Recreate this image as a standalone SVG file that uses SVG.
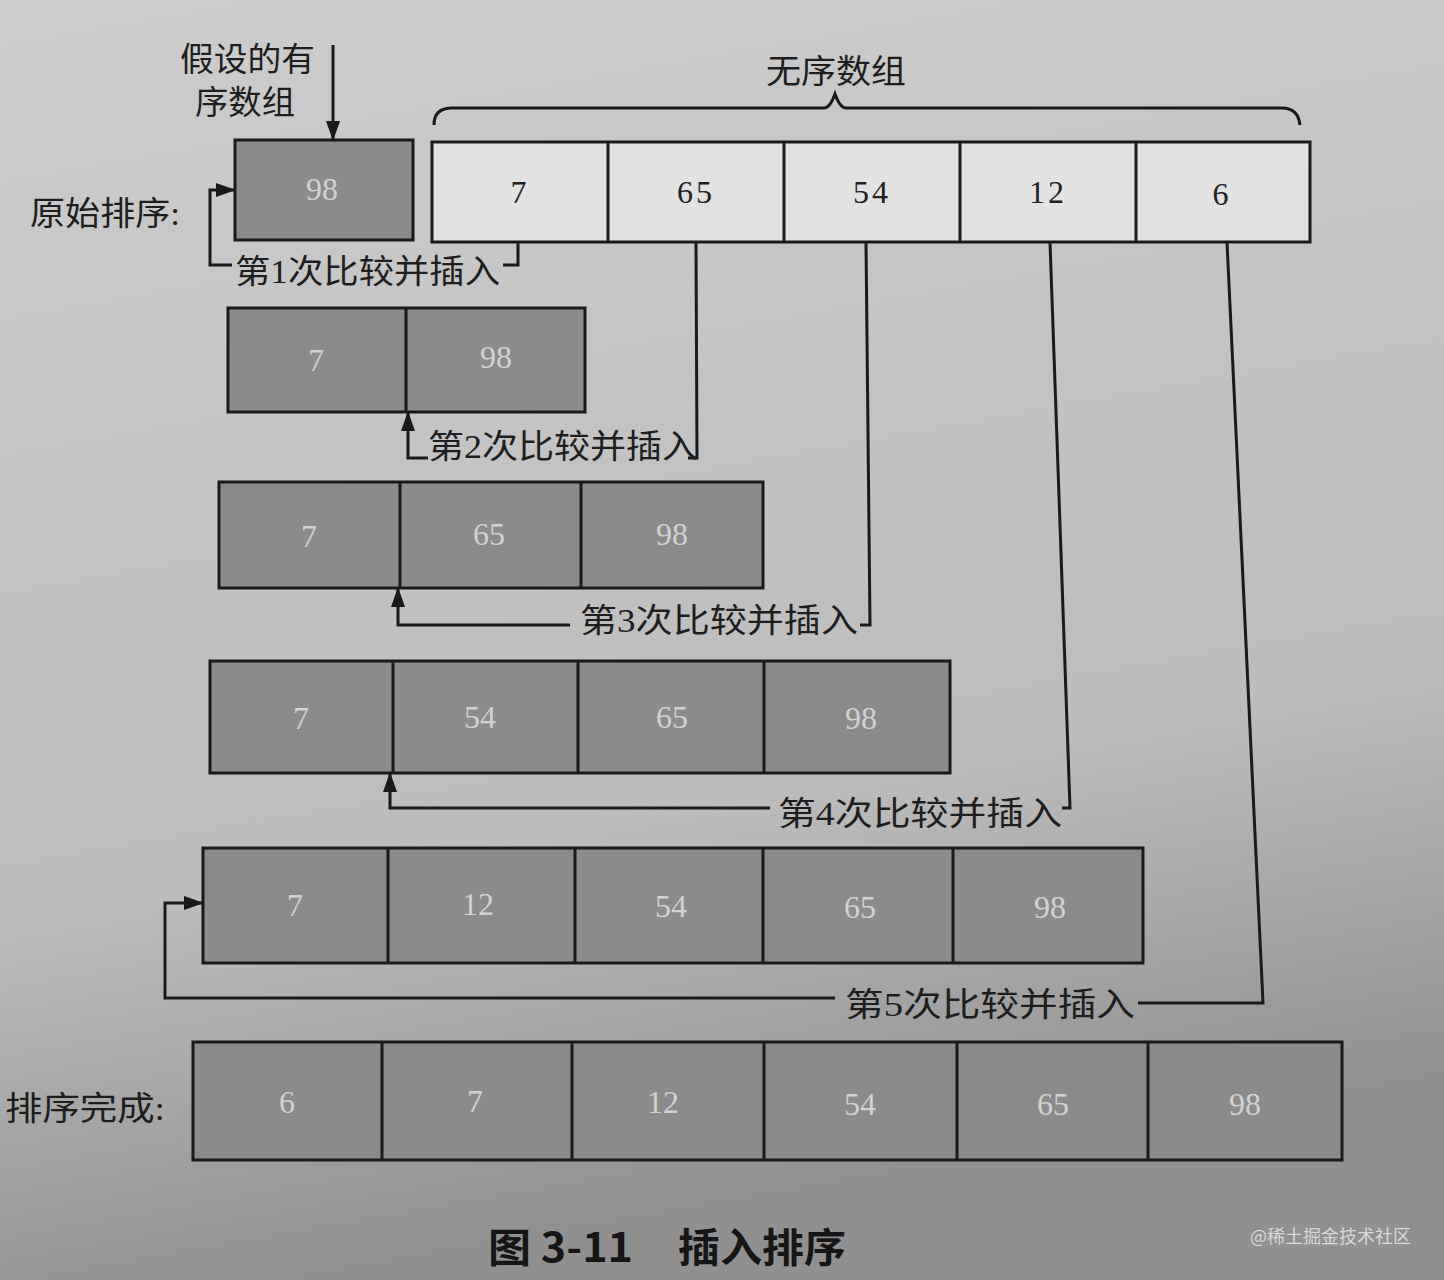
<svg xmlns="http://www.w3.org/2000/svg" width="1444" height="1280" viewBox="0 0 1444 1280">
<defs>
<linearGradient id="bg" x1="0" y1="0" x2="0.2" y2="1">
<stop offset="0" stop-color="#cdcdcd"/>
<stop offset="0.7" stop-color="#bcbcbc"/>
<stop offset="1" stop-color="#909090"/>
</linearGradient>
<marker id="ah" viewBox="0 0 20 14" refX="19" refY="7" markerWidth="20" markerHeight="14" markerUnits="userSpaceOnUse" orient="auto">
<path d="M0,0 L20,7 L0,14 Z" fill="#1a1a1a"/>
</marker>
<style>
.g{fill:#8b8b8b;stroke:#1a1a1a;stroke-width:3}
.w{fill:#e2e2e2;stroke:#1a1a1a;stroke-width:3}
.d{stroke:#1a1a1a;stroke-width:3;fill:none}
.ng{font-family:"Liberation Serif",serif;font-size:32px;fill:#d2d2d2;text-anchor:middle}
.nw{font-family:"Liberation Serif",serif;font-size:32px;fill:#222;text-anchor:middle;letter-spacing:3px}
.lb{font-family:"Liberation Serif","Noto Sans CJK SC",serif;font-size:33px;fill:#1e1e1e}
.ln{stroke:#1a1a1a;stroke-width:3;fill:none}
.cap{font-family:"Noto Sans CJK SC",sans-serif;font-size:40px;font-weight:bold;fill:#161616}
</style>
</defs>
<rect width="1444" height="1280" fill="url(#bg)"/>

<g id="label-sorted">
<text class="lb" x="180" y="71" textLength="135" lengthAdjust="spacingAndGlyphs">假设的有</text>
<text class="lb" x="195" y="114" textLength="100" lengthAdjust="spacingAndGlyphs">序数组</text>
</g>
<g id="label-unsorted">
<text class="lb" x="766" y="83" textLength="140" lengthAdjust="spacingAndGlyphs">无序数组</text>
<path class="ln" d="M434,125 Q434,108 452,108 H824 Q830,108 835,94 Q840,108 846,108 H1282 Q1298,108 1300,125"/>
</g>
<g id="label-original">
<text class="lb" x="30" y="225" textLength="150" lengthAdjust="spacingAndGlyphs">原始排序:</text>
</g>
<g id="label-done">
<text class="lb" x="5" y="1120" textLength="160" lengthAdjust="spacingAndGlyphs">排序完成:</text>
</g>

<g id="row0">
<rect class="g" x="235" y="140" width="178" height="100"/>
<text class="ng" x="322" y="200">98</text>
<rect class="w" x="432" y="142" width="878" height="100"/>
<path class="d" d="M608,142V242M784,142V242M960,142V242M1136,142V242"/>
<text class="nw" x="520" y="203">7</text>
<text class="nw" x="696" y="203">65</text>
<text class="nw" x="872" y="203">54</text>
<text class="nw" x="1048" y="203">12</text>
<text class="nw" x="1222" y="205">6</text>
</g>

<g id="row1">
<rect class="g" x="228" y="308" width="357" height="104"/>
<path class="d" d="M406,308V412"/>
<text class="ng" x="316" y="371">7</text>
<text class="ng" x="496" y="368">98</text>
</g>

<g id="row2">
<rect class="g" x="219" y="482" width="544" height="106"/>
<path class="d" d="M400,482V588M581,482V588"/>
<text class="ng" x="309" y="547">7</text>
<text class="ng" x="489" y="545">65</text>
<text class="ng" x="672" y="545">98</text>
</g>

<g id="row3">
<rect class="g" x="210" y="661" width="740" height="112"/>
<path class="d" d="M393,661V773M578,661V773M764,661V773"/>
<text class="ng" x="301" y="729">7</text>
<text class="ng" x="480" y="728">54</text>
<text class="ng" x="672" y="728">65</text>
<text class="ng" x="861" y="729">98</text>
</g>

<g id="row4">
<rect class="g" x="203" y="848" width="940" height="115"/>
<path class="d" d="M388,848V963M575,848V963M763,848V963M953,848V963"/>
<text class="ng" x="295" y="916">7</text>
<text class="ng" x="478" y="915">12</text>
<text class="ng" x="671" y="917">54</text>
<text class="ng" x="860" y="918">65</text>
<text class="ng" x="1050" y="918">98</text>
</g>

<g id="row5">
<rect class="g" x="193" y="1042" width="1149" height="118"/>
<path class="d" d="M382,1042V1160M572,1042V1160M764,1042V1160M957,1042V1160M1148,1042V1160"/>
<text class="ng" x="287" y="1113">6</text>
<text class="ng" x="475" y="1112">7</text>
<text class="ng" x="663" y="1113">12</text>
<text class="ng" x="860" y="1115">54</text>
<text class="ng" x="1053" y="1115">65</text>
<text class="ng" x="1245" y="1115">98</text>
</g>

<g id="connectors">
<path class="ln" d="M333,45V140" marker-end="url(#ah)"/>
<path class="ln" d="M518,242V265H503"/>
<path class="ln" d="M232,265H210V190H235" marker-end="url(#ah)"/>
<path class="ln" d="M696,242L697,458H688"/>
<path class="ln" d="M428,458H408V412" marker-end="url(#ah)"/>
<path class="ln" d="M866,242L870,625H860"/>
<path class="ln" d="M570,625H398V588" marker-end="url(#ah)"/>
<path class="ln" d="M1050,242L1070,808H1062"/>
<path class="ln" d="M770,808H390V773" marker-end="url(#ah)"/>
<path class="ln" d="M1227,242L1263,1003H1138"/>
<path class="ln" d="M835,998H165V903H203" marker-end="url(#ah)"/>
</g>

<g id="step-labels">
<text class="lb" x="235" y="283" textLength="265" lengthAdjust="spacingAndGlyphs">第1次比较并插入</text>
<text class="lb" x="428" y="458" textLength="270" lengthAdjust="spacingAndGlyphs">第2次比较并插入</text>
<text class="lb" x="580" y="632" textLength="278" lengthAdjust="spacingAndGlyphs">第3次比较并插入</text>
<text class="lb" x="778" y="825" textLength="284" lengthAdjust="spacingAndGlyphs">第4次比较并插入</text>
<text class="lb" x="845" y="1016" textLength="290" lengthAdjust="spacingAndGlyphs">第5次比较并插入</text>
</g>

<g id="caption">
<text class="cap" x="488" y="1262" textLength="145" lengthAdjust="spacingAndGlyphs">图 3-11</text>
<text class="cap" x="678" y="1262" textLength="168" lengthAdjust="spacingAndGlyphs">插入排序</text>
<text x="1250" y="1243" font-family="'Noto Sans CJK SC',sans-serif" font-size="18" fill="#e6e6e6" fill-opacity="0.85">@稀土掘金技术社区</text>
</g>
</svg>
